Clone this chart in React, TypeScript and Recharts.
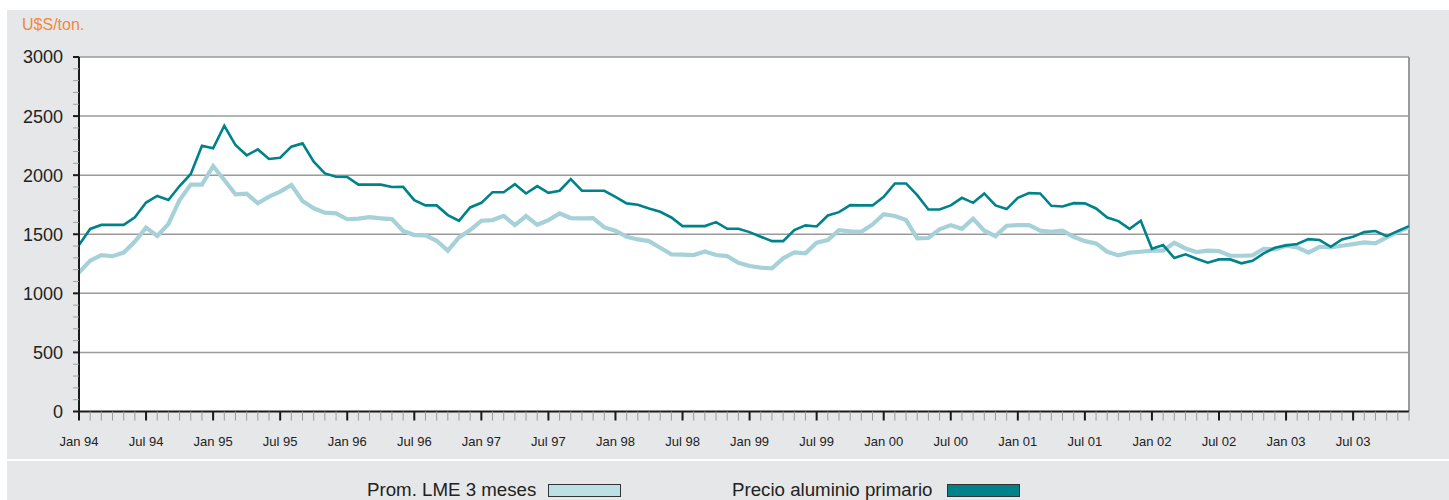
import React from 'react';
import { LineChart, Line, XAxis, YAxis, CartesianGrid, ReferenceLine } from 'recharts';

const years = ['94', '95', '96', '97', '98', '99', '00', '01', '02', '03'];
const monthAbbr = ['Jan', 'Feb', 'Mar', 'Apr', 'May', 'Jun', 'Jul', 'Aug', 'Sep', 'Oct', 'Nov', 'Dec'];
const categories = years.flatMap((y) => monthAbbr.map((m) => `${m} ${y}`));
const labelMonths = ['Jan', 'Jul'];

const lmeValues = [
  1176, 1277, 1323, 1314, 1345, 1438, 1556, 1486, 1587, 1790,
  1920, 1920, 2077, 1959, 1838, 1844, 1762, 1818, 1861, 1917,
  1782, 1720, 1683, 1677, 1627, 1632, 1644, 1635, 1628, 1527,
  1493, 1490, 1445, 1361, 1473, 1535, 1614, 1620, 1656, 1577,
  1654, 1580, 1620, 1676, 1637, 1634, 1637, 1558, 1530, 1479,
  1456, 1442, 1386, 1330, 1327, 1324, 1355, 1324,
  1315, 1259, 1231, 1217, 1211, 1296, 1346, 1338, 1428, 1451,
  1535, 1524, 1521, 1583, 1670, 1654, 1620, 1465, 1468, 1541,
  1577, 1546, 1631, 1530, 1484, 1572, 1577, 1577, 1530,
  1521, 1530, 1479, 1442, 1423, 1352, 1321, 1344, 1352, 1361,
  1361, 1428, 1380, 1349, 1361, 1358, 1318, 1318, 1321, 1377,
  1372, 1403, 1389, 1344, 1394, 1389, 1403, 1417, 1431, 1423,
  1473, 1521, 1558,
];

const primarioValues = [
  1410, 1545, 1579, 1579, 1579, 1644, 1768, 1824, 1790, 1908,
  2010, 2249, 2227, 2418, 2255, 2168, 2218, 2137, 2148, 2241,
  2269, 2114, 2015, 1987, 1985, 1920, 1920, 1920, 1900, 1901,
  1789, 1744, 1744, 1662, 1614, 1727, 1766, 1856, 1856, 1924,
  1845, 1907, 1851, 1868, 1966, 1868, 1868, 1868, 1817, 1761,
  1749, 1718, 1690, 1642, 1569, 1569, 1569, 1603,
  1546, 1546, 1518, 1479, 1442, 1442, 1535, 1575, 1566, 1659,
  1687, 1746, 1744, 1744, 1817, 1930, 1930, 1831, 1710, 1710,
  1744, 1808, 1766, 1845, 1744, 1713, 1808, 1848, 1845,
  1741, 1735, 1763, 1761, 1718, 1642, 1611, 1546, 1614, 1377,
  1408, 1299, 1330, 1293, 1259, 1287, 1287, 1254, 1276, 1338,
  1386, 1406, 1417, 1459, 1451, 1394, 1456, 1479, 1518, 1527,
  1484, 1527, 1569,
];

const yTicks = [
  0, 100, 200, 300, 400, 500, 600, 700, 800, 900, 1000, 1100, 1200, 1300, 1400, 1500,
  1600, 1700, 1800, 1900, 2000, 2100, 2200, 2300, 2400, 2500, 2600, 2700, 2800, 2900, 3000,
];
const yLabelTicks = [0, 500, 1000, 1500, 2000, 2500, 3000];
const gridValues = [500, 1000, 1500, 2000, 2500, 3000];

const data = categories.map((month, i) => ({
  month,
  lme: lmeValues[i],
  primario: primarioValues[i],
}));

const DARK = '#00828a';
const LIGHT = '#a7d1d9';
const FONT = '"Liberation Sans", Arial, Helvetica, sans-serif';

const YTick = (props: any) => {
  const { x, y, payload } = props;
  const v = payload.value;
  const major = yLabelTicks.includes(v);
  const ax = x + 16;
  return (
    <g>
      <line x1={ax - 6} x2={ax} y1={y} y2={y} stroke={major ? '#1a1a1a' : '#a0a0a0'} strokeWidth={major ? 2 : 1} />
      {major && (
        <text x={x} y={y} dy="0.36em" textAnchor="end" fontSize={18} fill="#222" fontFamily={FONT}>
          {v}
        </text>
      )}
    </g>
  );
};

const XTick = (props: any) => {
  const { x, y, payload } = props;
  const label: string = payload.value;
  const major = labelMonths.includes(label.slice(0, 3));
  return (
    <g>
      <line x1={x} x2={x} y1={y} y2={y + 9} stroke={major ? '#1a1a1a' : '#9a9a9a'} strokeWidth={major ? 2 : 1} />
      {major && (
        <text x={x} y={y + 34} textAnchor="middle" fontSize={13} fill="#222" fontFamily={FONT}>
          {label}
        </text>
      )}
    </g>
  );
};

export default function App() {
  return (
    <div style={{ position: 'absolute', left: 0, top: 0, width: 1449, height: 500, background: '#fff', fontFamily: FONT }}>
      <div style={{ position: 'absolute', left: 7, top: 10, width: 1442, height: 449, background: '#e6e7e8' }} />
      <div style={{ position: 'absolute', left: 7, top: 461, width: 1442, height: 39, background: '#e6e7e8' }} />
      <div style={{ position: 'absolute', left: 22, top: 15, fontSize: 16, lineHeight: '20px', color: '#f0883e' }}>U$S/ton.</div>
      <div style={{ position: 'absolute', left: 0, top: 0 }}>
        <LineChart width={1449} height={460} data={data} margin={{ top: 57, right: 40, bottom: 18.5, left: 19 }}>
          <CartesianGrid horizontalValues={gridValues} vertical={false} fill="#fff" stroke="#9a9a9a" strokeWidth={1.5} />
          <XAxis
            dataKey="month"
            scale="point"
            padding={{ left: 0, right: 0 }}
            interval={0}
            height={30}
            tickSize={0}
            tickMargin={0}
            tickLine={false}
            tick={<XTick />}
            axisLine={{ stroke: '#1a1a1a', strokeWidth: 2 }}
          />
          <YAxis
            domain={[0, 3000]}
            ticks={yTicks}
            interval={0}
            width={60}
            tickSize={6}
            tickMargin={10}
            tickLine={false}
            tick={<YTick />}
            axisLine={{ stroke: '#1a1a1a', strokeWidth: 2 }}
          />
          <ReferenceLine x={categories[categories.length - 1]} stroke="#9a9a9a" strokeWidth={2} />
          <Line type="linear" dataKey="lme" stroke={LIGHT} strokeWidth={4.2} dot={false} isAnimationActive={false} />
          <Line type="linear" dataKey="primario" stroke={DARK} strokeWidth={2.6} dot={false} isAnimationActive={false} />
        </LineChart>
      </div>
      <div style={{ position: 'absolute', left: 367, top: 480, fontSize: 18.7, lineHeight: '20px', color: '#222', whiteSpace: 'nowrap' }}>Prom. LME 3 meses</div>
      <div style={{ position: 'absolute', left: 548, top: 484, width: 71, height: 11, border: '1px solid #333', background: '#bde0e5' }} />
      <div style={{ position: 'absolute', left: 732, top: 480, fontSize: 18.7, lineHeight: '20px', color: '#222', whiteSpace: 'nowrap' }}>Precio aluminio primario</div>
      <div style={{ position: 'absolute', left: 947, top: 484, width: 71, height: 11, border: '1px solid #333', background: DARK }} />
    </div>
  );
}
